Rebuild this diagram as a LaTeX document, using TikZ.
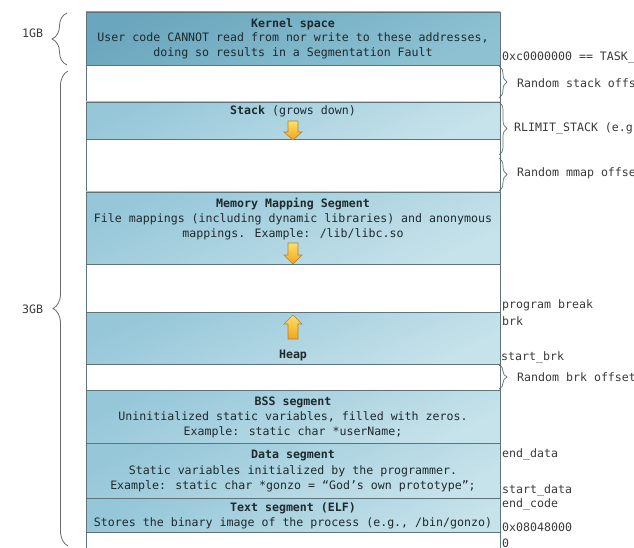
\documentclass[tikz,border=0pt]{standalone}
\usepackage{fontspec}
\setmainfont{DejaVu Sans Mono}
\usetikzlibrary{decorations.pathreplacing,shadings}
\definecolor{segline}{HTML}{5F7479}
\definecolor{kerntop}{HTML}{6AA6BD}
\definecolor{kernbot}{HTML}{8EC2D3}
\definecolor{segtop}{HTML}{96C7D9}
\definecolor{segbot}{HTML}{C6E2EA}
\definecolor{textc}{HTML}{1E2A2E}
\definecolor{labc}{HTML}{3A3A3A}
\definecolor{bracec}{HTML}{6A6A6A}
\definecolor{arrtop}{HTML}{FFE067}
\definecolor{arrbot}{HTML}{F3A41A}
\definecolor{arrline}{HTML}{A8843A}
\begin{document}
\begin{tikzpicture}[x=1pt,y=-1pt,
  seg/.style={draw=segline, line width=0.8pt, inner sep=0pt, minimum width=414pt,
    top color=segtop, bottom color=segbot, shading angle=25},
  kern/.style={seg, top color=kerntop, bottom color=kernbot, shading angle=25},
  gap/.style={draw=segline, line width=0.8pt, fill=white, inner sep=0pt, minimum width=414pt},
  txt/.style={font=\fontsize{11.6}{15}\selectfont, text=textc, align=center, inner sep=0pt},
  ttl/.style={font=\bfseries\fontsize{11.6}{15}\selectfont, text=textc, align=center, inner sep=0pt},
  lab/.style={font=\fontsize{11.6}{15}\selectfont, text=labc, anchor=west, inner sep=0pt},
  rbrace/.style={draw=bracec, line width=0.7pt, decorate, decoration={brace, amplitude=8pt}},
  lbrace/.style={draw=bracec, line width=0.8pt, decorate, decoration={brace, amplitude=15pt}},
  blockarrow/.style={draw=arrline, line width=0.6pt, top color=arrtop, bottom color=arrbot}
]
\useasboundingbox (0,0) rectangle (634,548);
\clip (0,0) rectangle (634,548);

% segments
\node[kern, minimum height=53pt] (kernel) at (293,38.5) {};
\node[gap,  minimum height=37pt] (gap1)   at (293,83.5) {};
\node[seg,  minimum height=37pt] (stack)  at (293,120.5) {};
\node[gap,  minimum height=53pt] (gap2)   at (293,165.5) {};
\node[seg,  minimum height=72pt] (mmap)   at (293,228) {};
\node[gap,  minimum height=48pt] (gap3)   at (293,288) {};
\node[seg,  minimum height=52pt] (heap)   at (293,338) {};
\node[gap,  minimum height=26pt] (gap4)   at (293,377) {};
\node[seg,  minimum height=53pt] (bss)    at (293,416.5) {};
\node[seg,  minimum height=55pt] (data)   at (293,470.5) {};
\node[seg,  minimum height=34pt] (text)   at (293,515) {};
\node[gap,  minimum height=30pt] (gap5)   at (293,547) {};

% segment texts
\node[ttl] (kt) at (293,24) {Kernel space};
\node[txt] (kd) at (293,46) {User code CANNOT read from nor write to these addresses,\\doing so results in a Segmentation Fault};
\node[txt] (st) at (293,111) {{\bfseries Stack} (grows down)};
\node[ttl] (mt) at (293,204) {Memory Mapping Segment};
\node[txt] (md) at (293,227) {File mappings (including dynamic libraries) and anonymous\\mappings. Example: /lib/libc.so};
\node[ttl] (ht) at (293,355) {Heap};
\node[ttl] (bt) at (293,402) {BSS segment};
\node[txt] (bd) at (293,424.5) {Uninitialized static variables, filled with zeros.\\Example: static char *userName;};
\node[ttl] (dt) at (293,455) {Data segment};
\node[txt] (dd) at (293,478.5) {Static variables initialized by the programmer.\\Example: static char *gonzo = “God’s own prototype”;};
\node[ttl] (tt) at (293,508) {Text segment (ELF)};
\node[txt] (td) at (293,523) {Stores the binary image of the process (e.g., /bin/gonzo)};

% growth arrows
\path[blockarrow] (288,121) -- (298,121) -- (298,132) -- (302,132) -- (293,140) -- (284,132) -- (288,132) -- cycle;
\path[blockarrow] (288,243) -- (298,243) -- (298,255) -- (302,255) -- (293,264) -- (284,255) -- (288,255) -- cycle;
\path[blockarrow] (293,315) -- (302,324) -- (298,324) -- (298,339) -- (288,339) -- (288,324) -- (284,324) -- cycle;

% left braces
\draw[lbrace] (67,65) -- (67,13);
\node[lab] (g1) at (22,33) {1GB};
\draw[lbrace] (68,546) -- (68,71);
\node[lab] (g3) at (22,309) {3GB};

% right braces and labels
\node[lab] (task) at (502,58) {0xc0000000 == TASK\_};
\draw[rbrace] (499,66) -- (499,98);
\node[lab] (rso) at (517,83) {Random stack offs};
\draw[rbrace] (499,102) -- (499,155);
\node[lab] (rls) at (514,128) {RLIMIT\_STACK (e.g};
\draw[rbrace] (499,158) -- (499,191);
\node[lab] (rmo) at (517,173) {Random mmap offse};
\node[lab] (pb) at (502,305) {program break};
\node[lab] (brk) at (502,321) {brk};
\node[lab] (sbrk) at (501,357) {start\_brk};
\draw[rbrace] (499,365) -- (499,389);
\node[lab] (rbo) at (517,377) {Random brk offset};
\node[lab] (ed) at (502,454) {end\_data};
\node[lab] (sd) at (502,490) {start\_data};
\node[lab] (ec) at (502,504) {end\_code};
\node[lab] (a08) at (502,527) {0x08048000};
\node[lab] (zero) at (502,543) {0};
\end{tikzpicture}
\end{document}
